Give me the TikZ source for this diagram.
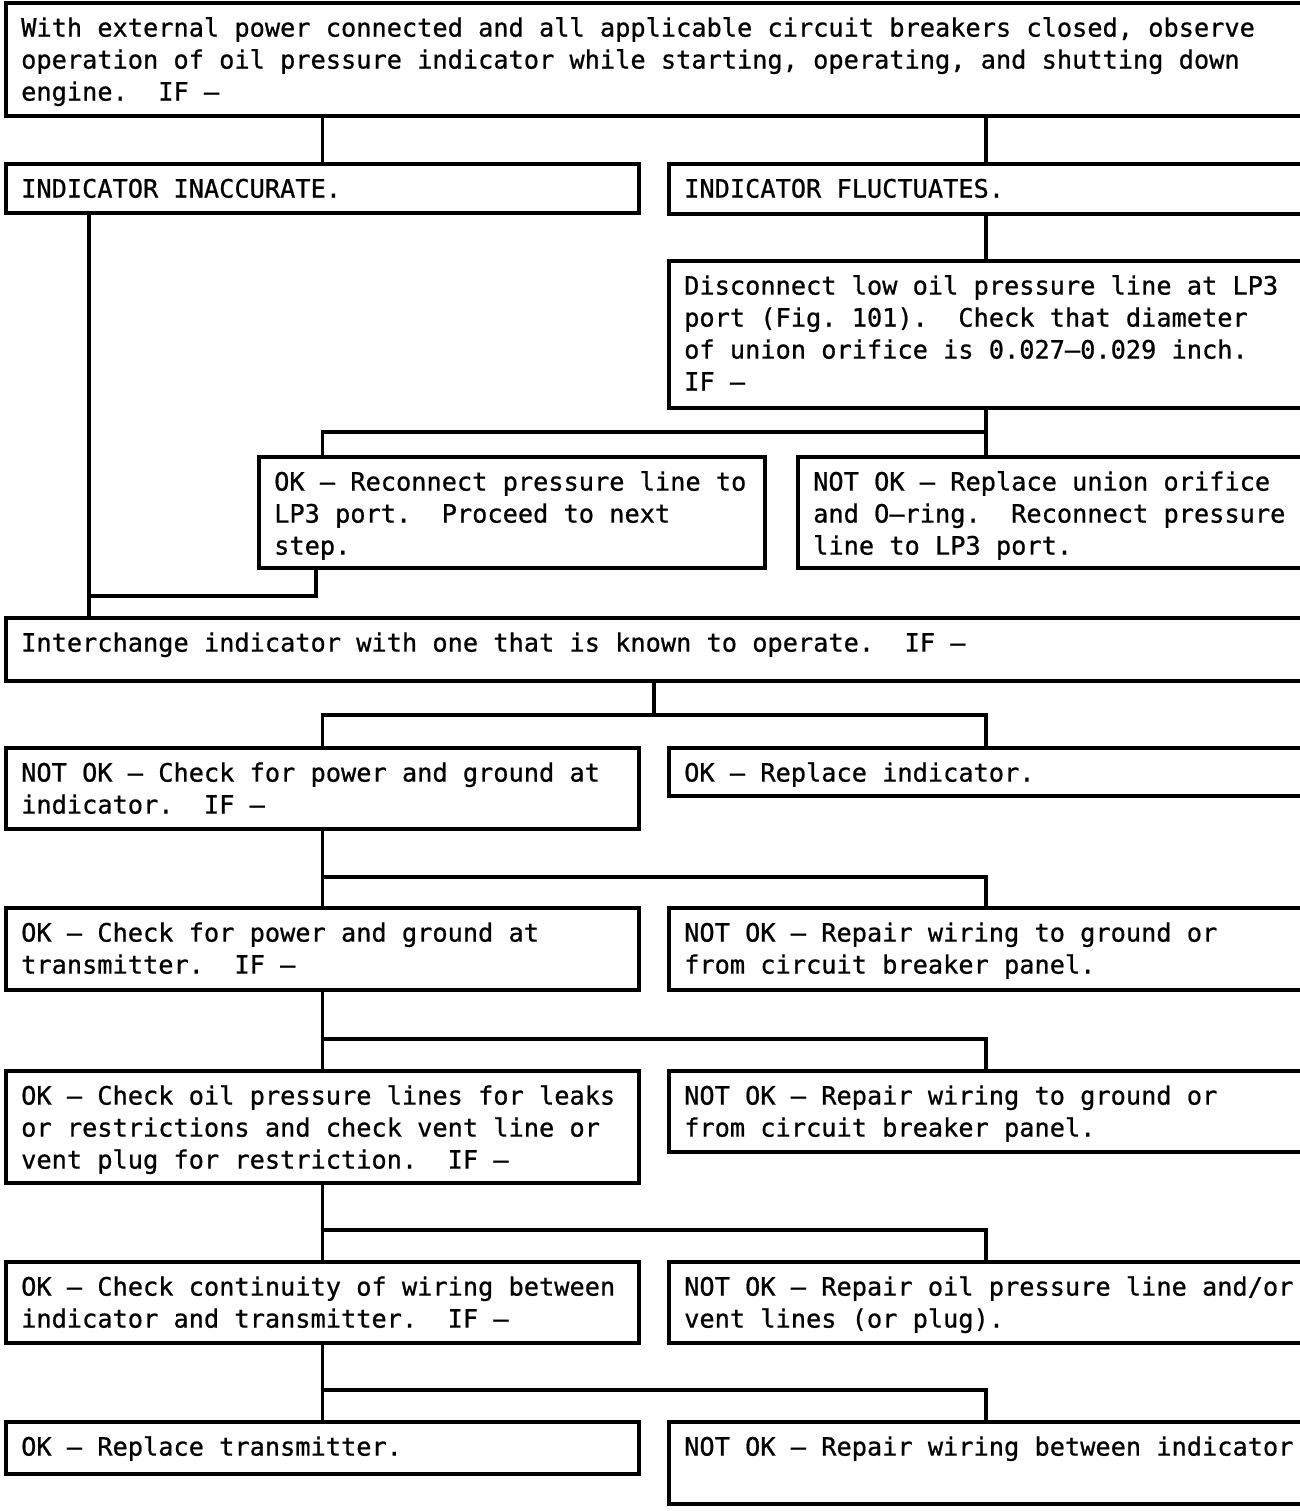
\documentclass[tikz,border=0pt]{standalone}
\usepackage{fontspec}
\setmainfont[FakeBold=0.8]{DejaVu Sans Mono}
\usetikzlibrary{calc}
\frenchspacing
\tikzset{
  box/.style={draw, line width=3.4pt, rectangle, outer sep=0pt, inner sep=0pt, anchor=north west},
  txt/.style={anchor=north west, inner sep=0pt, align=left, font=\fontsize{25.3}{32}\selectfont},
  wire/.style={line width=3.4pt}
}
\begin{document}
\begin{tikzpicture}[x=1pt, y=-1pt]
\fill[white] (0,0) rectangle (1299,1511);
\useasboundingbox (0,0) rectangle (1299,1511);
% boxes
\node[box, minimum width=1304pt, minimum height=113pt] (T)  at (6,3) {};
\node[box, minimum width=633pt,  minimum height=49pt]  (A)  at (6,164) {};
\node[box, minimum width=634pt,  minimum height=50pt]  (B)  at (669,164) {};
\node[box, minimum width=634pt,  minimum height=147pt] (C)  at (669,261) {};
\node[box, minimum width=506pt,  minimum height=111pt] (D1) at (259,457) {};
\node[box, minimum width=520pt,  minimum height=111pt] (D2) at (798,457) {};
\node[box, minimum width=1304pt, minimum height=63pt]  (I)  at (6,618) {};
\node[box, minimum width=633pt,  minimum height=81pt]  (E1) at (6,748) {};
\node[box, minimum width=634pt,  minimum height=48pt]  (E2) at (669,748) {};
\node[box, minimum width=633pt,  minimum height=82pt]  (F1) at (6,908) {};
\node[box, minimum width=634pt,  minimum height=82pt]  (F2) at (669,908) {};
\node[box, minimum width=633pt,  minimum height=112pt] (G1) at (6,1071) {};
\node[box, minimum width=634pt,  minimum height=81pt]  (G2) at (669,1071) {};
\node[box, minimum width=633pt,  minimum height=81pt]  (H1) at (6,1262) {};
\node[box, minimum width=634pt,  minimum height=81pt]  (H2) at (669,1262) {};
\node[box, minimum width=633pt,  minimum height=52pt]  (J1) at (6,1422) {};
\node[box, minimum width=634pt,  minimum height=82pt]  (J2) at (669,1422) {};
% texts
\node[txt] (tT)  at ($(T.north west)+(15,11)$)  {\strut With external power connected and all applicable circuit breakers closed, observe\\operation of oil pressure indicator while starting, operating, and shutting down\\engine.\ \ IF –};
\node[txt] (tA)  at ($(A.north west)+(15,11)$)  {\strut INDICATOR INACCURATE.};
\node[txt] (tB)  at ($(B.north west)+(15,11)$)  {\strut INDICATOR FLUCTUATES.};
\node[txt] (tC)  at ($(C.north west)+(15,11)$)  {\strut Disconnect low oil pressure line at LP3\\port (Fig. 101).\ \ Check that diameter\\of union orifice is 0.027–0.029 inch.\\IF –};
\node[txt] (tD1) at ($(D1.north west)+(15,11)$) {\strut OK – Reconnect pressure line to\\LP3 port.\ \ Proceed to next\\step.};
\node[txt] (tD2) at ($(D2.north west)+(15,11)$) {\strut NOT OK – Replace union orifice\\and O–ring.\ \ Reconnect pressure\\line to LP3 port.};
\node[txt] (tI)  at ($(I.north west)+(15,11)$)  {\strut Interchange indicator with one that is known to operate.\ \ IF –};
\node[txt] (tE1) at ($(E1.north west)+(15,11)$) {\strut NOT OK – Check for power and ground at\\indicator.\ \ IF –};
\node[txt] (tE2) at ($(E2.north west)+(15,11)$) {\strut OK – Replace indicator.};
\node[txt] (tF1) at ($(F1.north west)+(15,11)$) {\strut OK – Check for power and ground at\\transmitter.\ \ IF –};
\node[txt] (tF2) at ($(F2.north west)+(15,11)$) {\strut NOT OK – Repair wiring to ground or\\from circuit breaker panel.};
\node[txt] (tG1) at ($(G1.north west)+(15,11)$) {\strut OK – Check oil pressure lines for leaks\\or restrictions and check vent line or\\vent plug for restriction.\ \ IF –};
\node[txt] (tG2) at ($(G2.north west)+(15,11)$) {\strut NOT OK – Repair wiring to ground or\\from circuit breaker panel.};
\node[txt] (tH1) at ($(H1.north west)+(15,11)$) {\strut OK – Check continuity of wiring between\\indicator and transmitter.\ \ IF –};
\node[txt] (tH2) at ($(H2.north west)+(15,11)$) {\strut NOT OK – Repair oil pressure line and/or\\vent lines (or plug).};
\node[txt] (tJ1) at ($(J1.north west)+(15,11)$) {\strut OK – Replace transmitter.};
\node[txt] (tJ2) at ($(J2.north west)+(15,11)$) {\strut NOT OK – Repair wiring between indicator};
% helper coordinates
\coordinate (xLL) at (89,0);
\coordinate (xD)  at (316,0);
\coordinate (xM)  at (654,0);
\coordinate (yA)  at (0,432);
\coordinate (yB)  at (0,596);
\coordinate (yC)  at (0,715);
\coordinate (yD)  at (0,877);
\coordinate (yE)  at (0,1039);
\coordinate (yF)  at (0,1230);
\coordinate (yG)  at (0,1390);
% connectors
\draw[wire] (A.north |- T.south) -- (A.north);
\draw[wire] (B.north |- T.south) -- (B.north);
\draw[wire] (B.south) -- (C.north);
\draw[wire] (C.south) -- (C.south |- D2.north);
\draw[wire] (C.south |- yA) -| (A.north |- D1.north);
\draw[wire] (xD |- D1.south) |- (xLL |- yB);
\draw[wire] (xLL |- A.south) -- (xLL |- I.north);
\draw[wire] (xM |- I.south) -- (xM |- yC);
\draw[wire] (E1.north) |- (E2.north |- yC) -- (E2.north);
\draw[wire] (E1.south) -- (F1.north);
\draw[wire] (E1.south |- yD) -| (F2.north);
\draw[wire] (F1.south) -- (G1.north);
\draw[wire] (F1.south |- yE) -| (G2.north);
\draw[wire] (G1.south) -- (H1.north);
\draw[wire] (G1.south |- yF) -| (H2.north);
\draw[wire] (H1.south) -- (J1.north);
\draw[wire] (H1.south |- yG) -| (J2.north);
\end{tikzpicture}
\end{document}
